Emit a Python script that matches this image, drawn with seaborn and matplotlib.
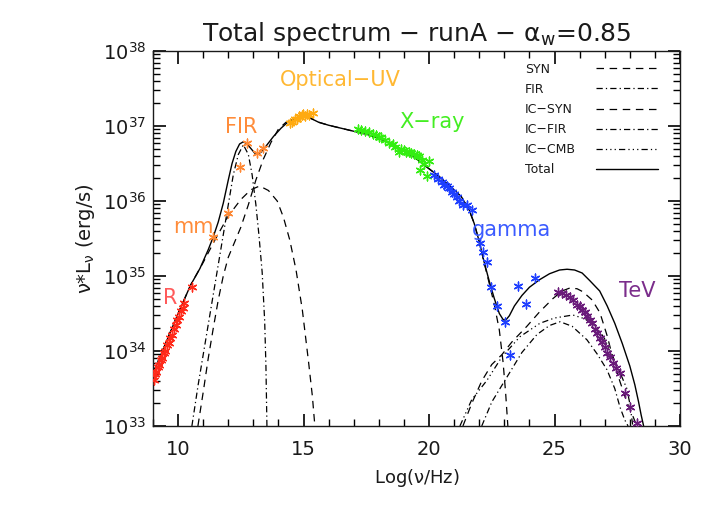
import numpy as np
import pandas as pd
import matplotlib
matplotlib.use("Agg")
import matplotlib.pyplot as plt
import seaborn as sns
from matplotlib.lines import Line2D
from matplotlib.ticker import MultipleLocator, LogLocator

# ---------------- data (x = log10(nu/Hz), values = log10(nu L_nu)) ----------------
total_x = [9.0, 9.5, 10.0, 10.5, 10.87, 11.2, 11.4, 11.6, 11.8, 12.0, 12.15, 12.3, 12.45, 12.6, 12.75,
           12.9, 13.05, 13.15, 13.3, 13.5, 13.8, 14.1, 14.4, 14.7, 15.0, 15.3, 15.6, 16.0, 16.5, 17.0,
           17.5, 18.0, 18.5, 19.0, 19.5, 20.0, 20.5, 21.0, 21.3, 21.6, 21.8, 22.0, 22.2, 22.4, 22.6,
           22.8, 22.95, 23.05, 23.2, 23.4, 23.7, 24.0, 24.4, 24.8, 25.2, 25.5, 25.8, 26.1, 26.4, 26.8,
           27.1, 27.4, 27.7, 28.0, 28.2, 28.35, 28.45, 28.55]
total_y = [33.70, 34.10, 34.50, 34.88, 35.10, 35.35, 35.52, 35.72, 35.97, 36.28, 36.50, 36.66, 36.76, 36.79, 36.76,
           36.70, 36.64, 36.62, 36.65, 36.73, 36.86, 36.97, 37.06, 37.11, 37.13, 37.10, 37.05, 37.01, 36.97, 36.93,
           36.89, 36.84, 36.76, 36.67, 36.56, 36.43, 36.30, 36.15, 36.05, 35.88, 35.70, 35.46, 35.18, 34.93, 34.70,
           34.50, 34.42, 34.41, 34.47, 34.60, 34.74, 34.85, 34.95, 35.03, 35.08, 35.09, 35.08, 35.04, 34.94, 34.80,
           34.60, 34.37, 34.10, 33.80, 33.55, 33.32, 33.15, 33.00]

syn_x = [10.79, 11.0, 11.2, 11.4, 11.6, 11.8, 12.0, 12.25, 12.5, 12.8, 13.1, 13.4, 13.7, 14.0, 14.3, 14.6,
         15.0, 15.3, 15.6, 16.0, 16.5, 17.0, 17.5, 18.0, 18.5, 19.0, 19.5, 20.0, 20.5, 21.0, 21.3, 21.6,
         21.8, 22.0, 22.2, 22.4, 22.6, 22.8, 22.95, 23.05, 23.14]
syn_y = [33.0, 33.45, 33.9, 34.3, 34.68, 35.0, 35.25, 35.45, 35.65, 35.95, 36.28, 36.56, 36.78, 36.96, 37.05, 37.10,
         37.12, 37.10, 37.05, 37.01, 36.97, 36.93, 36.89, 36.84, 36.76, 36.67, 36.56, 36.43, 36.30, 36.15, 36.05, 35.88,
         35.70, 35.46, 35.17, 34.90, 34.62, 34.28, 33.85, 33.45, 33.0]

synlow_x = [9.0, 9.5, 10.0, 10.5, 11.0, 11.5, 12.0, 12.5, 12.9, 13.25, 13.6, 13.95, 14.2, 14.45, 14.7, 14.95,
            15.2, 15.35, 15.45]
synlow_y = [33.70, 34.10, 34.50, 34.88, 35.18, 35.50, 35.80, 36.02, 36.15, 36.20, 36.14, 36.00, 35.78, 35.48,
            35.08, 34.55, 33.85, 33.40, 33.0]

fir_x = [10.55, 10.8, 11.05, 11.3, 11.55, 11.8, 12.0, 12.2, 12.4, 12.6, 12.8, 12.95, 13.1, 13.22, 13.35,
         13.45, 13.5, 13.54]
fir_y = [33.0, 33.55, 34.05, 34.55, 35.05, 35.55, 35.95, 36.35, 36.62, 36.75, 36.62, 36.35, 35.95, 35.55, 35.05,
         34.4, 33.8, 33.0]

icsyn_x = [21.35, 21.7, 22.1, 22.5, 22.9, 23.3, 23.9, 24.4, 24.94, 25.3, 25.61, 25.9, 26.13, 26.5, 26.81,
           27.1, 27.33, 27.6, 27.88, 28.1, 28.28]
icsyn_y = [33.0, 33.3, 33.6, 33.82, 33.95, 34.12, 34.33, 34.52, 34.70, 34.80, 34.84, 34.83, 34.79, 34.68, 34.51,
           34.2, 33.9, 33.6, 33.32, 33.15, 33.0]

icfir_x = [22.1, 22.5, 23.1, 23.7, 24.3, 24.8, 25.22, 25.7, 26.29, 26.7, 27.09, 27.4, 27.61, 27.8, 27.93]
icfir_y = [33.0, 33.32, 33.65, 33.98, 34.22, 34.34, 34.39, 34.33, 34.15, 33.96, 33.75, 33.5, 33.25, 33.08, 33.0]

iccmb_x = [21.23, 21.7, 22.31, 22.9, 23.62, 24.42, 25.0, 25.73, 26.2, 26.69, 27.0, 27.33, 27.6, 27.88, 28.0, 28.12]
iccmb_y = [33.0, 33.35, 33.61, 33.92, 34.19, 34.37, 34.44, 34.48, 34.43, 34.32, 34.16, 33.92, 33.72, 33.50, 33.30, 33.0]

# observed points
r_x = [9.02, 9.08, 9.13, 9.18, 9.24, 9.30, 9.36, 9.42, 9.48, 9.55, 9.62, 9.68, 9.75, 9.82, 9.90, 9.97,
       10.05, 10.12, 10.20, 10.25, 10.55]
r_y = [33.62, 33.70, 33.72, 33.79, 33.81, 33.88, 33.91, 33.97, 34.00, 34.08, 34.11, 34.18, 34.22, 34.30, 34.34,
       34.42, 34.46, 34.54, 34.58, 34.64, 34.85]
mm_x = [11.39, 11.99]
mm_y = [35.52, 35.84]
fir_px = [12.47, 12.75, 13.14, 13.38]
fir_py = [36.45, 36.77, 36.64, 36.71]
opt_x = [14.46, 14.55, 14.65, 14.72, 14.80, 14.86, 14.92, 14.98, 15.05, 15.12, 15.20, 15.37]
opt_y = [37.04, 37.06, 37.09, 37.10, 37.13, 37.12, 37.15, 37.16, 37.14, 37.16, 37.15, 37.17]
xr_x = [17.15, 17.30, 17.45, 17.60, 17.75, 17.90, 18.00, 18.10, 18.25, 18.40, 18.55, 18.65, 18.80, 18.90,
        19.00, 19.10, 19.20, 19.30, 19.40, 19.50, 19.60, 19.70, 19.80, 19.65, 19.90, 20.00]
xr_y = [36.96, 36.95, 36.93, 36.92, 36.90, 36.88, 36.86, 36.85, 36.82, 36.78, 36.76, 36.72, 36.66, 36.70,
        36.68, 36.66, 36.66, 36.64, 36.63, 36.62, 36.60, 36.55, 36.50, 36.42, 36.33, 36.54]
gam_x = [20.20, 20.35, 20.50, 20.60, 20.70, 20.80, 20.90, 21.00, 21.10, 21.20, 21.35, 21.50, 21.70, 22.03,
         22.15, 22.30, 22.47, 22.71, 23.02, 23.22, 23.54, 23.86, 24.22]
gam_y = [36.35, 36.30, 36.25, 36.22, 36.20, 36.18, 36.12, 36.10, 36.05, 36.00, 35.95, 35.95, 35.88, 35.44,
         35.32, 35.19, 34.85, 34.60, 34.39, 33.95, 34.87, 34.63, 34.97]
tev_x = [25.14, 25.30, 25.45, 25.60, 25.75, 25.90, 26.00, 26.10, 26.20, 26.30, 26.40, 26.50, 26.60, 26.70,
         26.80, 26.90, 27.00, 27.10, 27.20, 27.33, 27.45, 27.60, 27.80, 28.00, 28.28]
tev_y = [34.79, 34.78, 34.75, 34.72, 34.68, 34.62, 34.60, 34.55, 34.52, 34.47, 34.42, 34.37, 34.30, 34.24,
         34.18, 34.12, 34.05, 33.97, 33.92, 33.84, 33.77, 33.71, 33.44, 33.25, 33.04]

band_names = ["R", "mm", "FIR", "Optical\u2212UV", "X\u2212ray", "gamma", "TeV"]
band_text_x = [9.68, 10.59, 12.5, 16.45, 20.12, 23.3, 28.28]
band_text_y = [34.71, 35.65, 36.99, 37.61, 37.05, 35.61, 34.80]
band_colors = ["#ff5a5a", "#ff8c3a", "#ff8c3a", "#ffb833", "#44ee22", "#3b5bff", "#7b2d8b"]

# ---------------- style ----------------
sns.set_style("ticks")
ink = "#1a1a1a"
plt.rcParams.update({
    "font.family": ["DejaVu Sans"],
    "mathtext.default": "regular",
    "axes.edgecolor": ink,
})

fig = plt.figure(figsize=(7.13, 5.05), dpi=100)
ax = fig.add_axes([153 / 713, 1 - 426 / 505, 527 / 713, 375 / 505])
ax.set_yscale("log")

def pw(v):
    return [10.0 ** t for t in v]

dash = (0, (6, 4.5))
dashdot = (0, (5, 2.5, 1, 2.5))
dash3dot = (0, (5, 2.5, 1, 2.5, 1, 2.5, 1, 2.5))
lw = 0.9

sns.lineplot(x=synlow_x, y=pw(synlow_y), ax=ax, color="black", lw=lw, linestyle=dash,
             estimator=None, sort=False, legend=False, label="_nolegend_")
sns.lineplot(x=syn_x, y=pw(syn_y), ax=ax, color="black", lw=lw, linestyle=dash,
             estimator=None, sort=False, legend=False, label="SYN")
sns.lineplot(x=fir_x, y=pw(fir_y), ax=ax, color="black", lw=lw, linestyle=dashdot,
             estimator=None, sort=False, legend=False, label="FIR")
sns.lineplot(x=icsyn_x, y=pw(icsyn_y), ax=ax, color="black", lw=lw, linestyle=dash,
             estimator=None, sort=False, legend=False, label="IC\u2212SYN")
sns.lineplot(x=icfir_x, y=pw(icfir_y), ax=ax, color="black", lw=lw, linestyle=dashdot,
             estimator=None, sort=False, legend=False, label="IC\u2212FIR")
sns.lineplot(x=iccmb_x, y=pw(iccmb_y), ax=ax, color="black", lw=lw, linestyle=dash3dot,
             estimator=None, sort=False, legend=False, label="IC\u2212CMB")
sns.lineplot(x=total_x, y=pw(total_y), ax=ax, color="black", lw=1.0, linestyle="-",
             estimator=None, sort=False, legend=False, label="Total")

pts = [(r_x, r_y, "#ff2a1a"), (mm_x, mm_y, "#ff8833"), (fir_px, fir_py, "#ff8833"),
       (opt_x, opt_y, "#ffaa10"), (xr_x, xr_y, "#33ee11"), (gam_x, gam_y, "#1f3fff"),
       (tev_x, tev_y, "#6a1b7a")]
for xs, ys, c in pts:
    sns.scatterplot(x=xs, y=pw(ys), ax=ax, marker=(6, 2, 0), s=40, color=c,
                    edgecolor=c, linewidth=1.0, legend=False, zorder=3)

for name, tx, ty, c in zip(band_names, band_text_x, band_text_y, band_colors):
    ax.text(tx, 10 ** ty, name, color=c, fontsize=15, ha="center", va="center")

ax.set_xlim(9, 30)
ax.set_ylim(1e33, 1e38)
ax.xaxis.set_major_locator(MultipleLocator(5))
ax.xaxis.set_minor_locator(MultipleLocator(1))
ax.yaxis.set_minor_locator(LogLocator(base=10, subs=np.arange(2, 10), numticks=20))
ax.tick_params(which="both", direction="in", bottom=True, left=True, top=True, right=True, color="black")
ax.tick_params(which="major", length=9, width=1.2)
ax.tick_params(which="minor", length=5, width=1.0)
ax.tick_params(axis="x", which="major", labelsize=14, pad=10, labelcolor=ink)
ax.tick_params(axis="y", which="major", labelsize=14, pad=5, labelcolor=ink)
for s in ax.spines.values():
    s.set_visible(True)
    s.set_color(ink)
    s.set_linewidth(1.0)

ax.set_xlabel("Log($\\nu$/Hz)", fontsize=13, color=ink, labelpad=6)
ax.set_ylabel("$\\nu$*L$_\\nu$ (erg/s)", fontsize=14, color=ink, labelpad=4)
ax.set_title("Total spectrum \u2212 runA \u2212 $\\alpha_w$=0.85", fontsize=18, color=ink, pad=7)

order = ["SYN", "FIR", "IC\u2212SYN", "IC\u2212FIR", "IC\u2212CMB", "Total"]
hs, ls = ax.get_legend_handles_labels()
hmap = dict(zip(ls, hs))
real = [hmap[k] for k in order]
blank = [Line2D([], [], linestyle="none") for _ in order]
leg = ax.legend(blank + real, order + [""] * 6, ncol=2, loc="upper left",
                bbox_to_anchor=(0.568, 0.969), frameon=False, fontsize=9,
                handlelength=5, handletextpad=0.8, columnspacing=1.6,
                labelspacing=0.57, borderpad=0, borderaxespad=0)
for t in leg.get_texts():
    t.set_color(ink)

fig.savefig("out.png", dpi=100)
